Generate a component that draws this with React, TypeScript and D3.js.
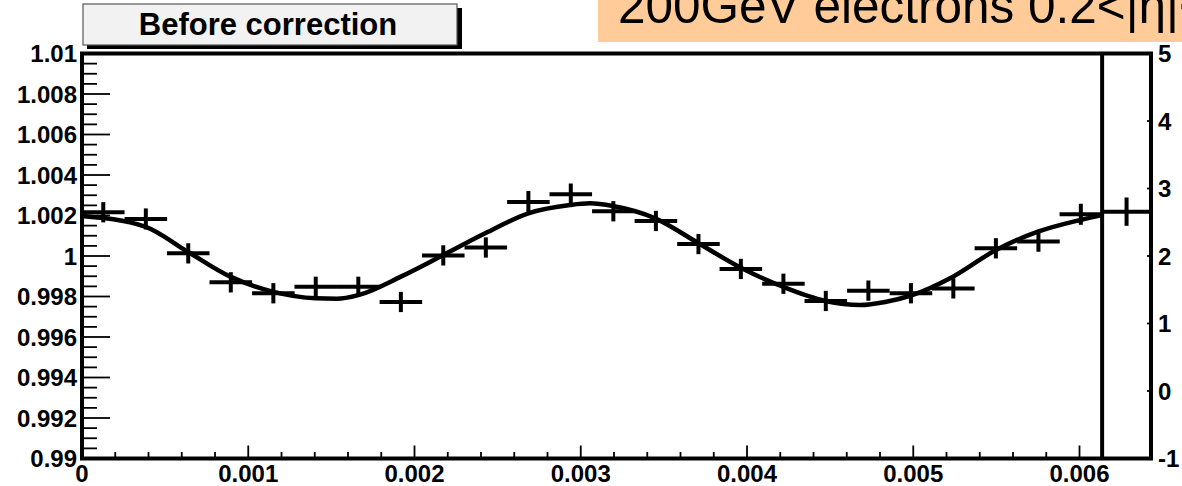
import React from "react";
import * as d3 from "d3";

// ---- data ----
const pointX = [0.000128, 0.000384, 0.000639, 0.000895, 0.001151, 0.001406, 0.001662, 0.001918, 0.002173, 0.002429, 0.002685, 0.00294, 0.003196, 0.003452, 0.003708, 0.003963, 0.004219, 0.004474, 0.00473, 0.004986, 0.005241, 0.005497, 0.005753, 0.006008, 0.006283];
const pointXErr = [0.000128, 0.000128, 0.000128, 0.000128, 0.000128, 0.000128, 0.000128, 0.000128, 0.000128, 0.000128, 0.000128, 0.000128, 0.000128, 0.000128, 0.000128, 0.000128, 0.000128, 0.000128, 0.000128, 0.000128, 0.000128, 0.000128, 0.000128, 0.000128, 0.000147];
const pointY = [1.00216, 1.00183, 1.00013, 0.9987, 0.99816, 0.99848, 0.99848, 0.99773, 1.00003, 1.00042, 1.00267, 1.00305, 1.00221, 1.00173, 1.00059, 0.99936, 0.99863, 0.99778, 0.99829, 0.99816, 0.9984, 1.00038, 1.00071, 1.00206, 1.00219];
const pointYErr = [0.0005, 0.00052, 0.0005, 0.0005, 0.0005, 0.0005, 0.0005, 0.0005, 0.0005, 0.0005, 0.00054, 0.00053, 0.0005, 0.0005, 0.0005, 0.0005, 0.0005, 0.0005, 0.0005, 0.0005, 0.0005, 0.0005, 0.0005, 0.00052, 0.0007];

const fitX = [0, 0.000379, 0.000636, 0.000892, 0.001147, 0.001406, 0.001532, 0.001662, 0.001918, 0.002174, 0.002425, 0.002685, 0.002936, 0.003057, 0.003193, 0.003448, 0.003708, 0.003963, 0.004216, 0.004471, 0.004681, 0.004831, 0.004986, 0.005239, 0.005498, 0.00575, 0.006005, 0.006134];
const fitY = [1.00198, 1.00145, 1.00021, 0.99898, 0.99824, 0.99791, 0.99789, 0.99807, 0.99898, 1.00005, 1.00112, 1.00211, 1.00252, 1.0026, 1.00247, 1.00186, 1.00063, 0.99942, 0.99848, 0.99778, 0.99758, 0.99773, 0.99805, 0.99898, 1.0003, 1.0012, 1.00178, 1.00202];

const xTickValues = [0, 0.001, 0.002, 0.003, 0.004, 0.005, 0.006];
const xTickLabels = ["0", "0.001", "0.002", "0.003", "0.004", "0.005", "0.006"];
const yTickValues = [0.99, 0.992, 0.994, 0.996, 0.998, 1.0, 1.002, 1.004, 1.006, 1.008, 1.01];
const yTickLabels = ["0.99", "0.992", "0.994", "0.996", "0.998", "1", "1.002", "1.004", "1.006", "1.008", "1.01"];
const rTickValues = [-1, 0, 1, 2, 3, 4, 5];
const rTickLabels = ["-1", "0", "1", "2", "3", "4", "5"];
const periodX = 0.006136;
const labelText = "Before correction";
const titleText = "200GeV electrons 0.2<|η|<0.4";

const FONT = "'Liberation Sans', Arial, Helvetica, sans-serif";

export default function App() {
  const W = 1182, H = 486;
  const left = 82, right = 1151, top = 53.5, bottom = 458.5;
  const x = d3.scaleLinear().domain([0, 0.00643]).range([left, right]);
  const y = d3.scaleLinear().domain([0.99, 1.01]).range([bottom, top]);
  const yR = d3.scaleLinear().domain([-1, 5]).range([bottom, top]);

  const line = d3
    .line<number>()
    .x((_, i) => x(fitX[i]))
    .y((d) => y(d))
    .curve(d3.curveMonotoneX);

  const yMinor = d3.range(0.99, 1.01 + 1e-9, 0.0005).filter(
    (v) => !yTickValues.some((t) => Math.abs(t - v) < 1e-7)
  );
  const xMinor = d3.range(0, 0.0060001, 0.0002).filter(
    (v) => !xTickValues.some((t) => Math.abs(t - v) < 1e-9)
  );

  return (
    <svg
      width={W}
      height={H}
      style={{ position: "absolute", left: 0, top: 0, background: "#fff" }}
      fontFamily={FONT}
    >
      {/* title box */}
      <rect x={598} y={-2} width={600} height={44} fill="#ffcc99" />
      <text x={618} y={23} fontSize={49.5} fill="#000">
        {titleText}
      </text>

      {/* label box */}
      <rect x={87} y={8} width={375} height={41} fill="#000" />
      <rect x={83} y={4} width={374} height={41} fill="#f2f2f2" stroke="#555" strokeWidth={1.2} />
      <text x={268} y={34.5} fontSize={31} fontWeight="bold" textAnchor="middle" fill="#000">
        {labelText}
      </text>

      {/* fit curve */}
      <path d={line(fitY) || ""} fill="none" stroke="#000" strokeWidth={4.5} />

      {/* data points */}
      {pointX.map((px, i) => {
        const cx = x(px);
        const cy = y(pointY[i]);
        const x0 = Math.max(x(px - pointXErr[i]), left);
        const x1 = Math.min(x(px + pointXErr[i]), right);
        return (
          <g key={i} stroke="#000" strokeWidth={4}>
            <line x1={x0} x2={x1} y1={cy} y2={cy} />
            <line x1={cx} x2={cx} y1={y(pointY[i] - pointYErr[i])} y2={y(pointY[i] + pointYErr[i])} />
          </g>
        );
      })}

      {/* left axis ticks */}
      {yTickValues.map((v) => (
        <line key={"ym" + v} x1={left} x2={left + 28} y1={y(v)} y2={y(v)} stroke="#000" strokeWidth={1.8} />
      ))}
      {yMinor.map((v, i) => (
        <line key={"yn" + i} x1={left} x2={left + 15} y1={y(v)} y2={y(v)} stroke="#000" strokeWidth={1.8} />
      ))}
      {yTickValues.map((v, i) => (
        <text key={"yl" + i} x={77} y={y(v) + 8.5} fontSize={24} fontWeight="bold" textAnchor="end" fill="#000">
          {yTickLabels[i]}
        </text>
      ))}

      {/* bottom axis ticks */}
      {xTickValues.map((v) => (
        <line key={"xm" + v} x1={x(v)} x2={x(v)} y1={bottom} y2={bottom - 13} stroke="#000" strokeWidth={1.8} />
      ))}
      {xMinor.map((v, i) => (
        <line key={"xn" + i} x1={x(v)} x2={x(v)} y1={bottom} y2={bottom - 6.5} stroke="#000" strokeWidth={1.8} />
      ))}
      {xTickValues.map((v, i) => (
        <text key={"xl" + i} x={x(v)} y={482} fontSize={24} fontWeight="bold" textAnchor="middle" fill="#000">
          {xTickLabels[i]}
        </text>
      ))}

      {/* right axis */}
      {rTickValues.map((v) => (
        <line key={"rm" + v} x1={right} x2={right - 4} y1={yR(v)} y2={yR(v)} stroke="#000" strokeWidth={1.8} />
      ))}
      {rTickValues.map((v, i) => (
        <text key={"rl" + i} x={1158} y={yR(v) + 8.5} fontSize={24} fontWeight="bold" textAnchor="start" fill="#000">
          {rTickLabels[i]}
        </text>
      ))}

      {/* frame */}
      <line x1={x(periodX)} x2={x(periodX)} y1={top} y2={bottom} stroke="#000" strokeWidth={4} />
      <rect x={left} y={top} width={right - left} height={bottom - top} fill="none" stroke="#000" strokeWidth={4} />
    </svg>
  );
}
